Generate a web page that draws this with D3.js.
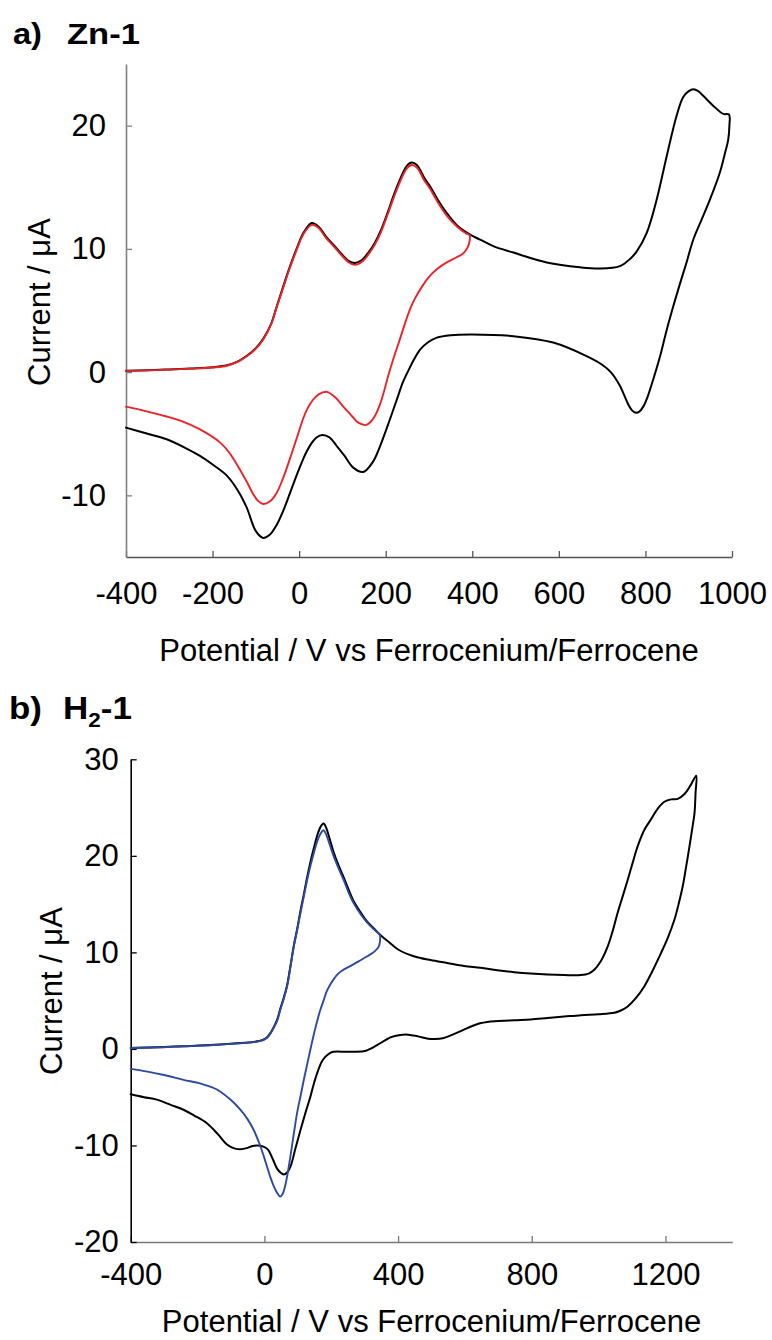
<!DOCTYPE html>
<html><head><meta charset="utf-8">
<script src="https://cdn.jsdelivr.net/npm/d3@7"></script>
<style>
body{margin:0;background:#fff}
svg{display:block}
text{font-family:"Liberation Sans",Arial,Helvetica,sans-serif}
</style>
</head><body>
<svg id="c" width="772" height="1340"></svg>
<script>
// ---------- tick values ----------
const xTicksA = [-400,-200,0,200,400,600,800,1000];
const yTicksA = [-10,0,10,20];
const xTicksB = [-400,0,400,800,1200];
const yTicksB = [-20,-10,0,10,20,30];

// ---------- panel a: Zn-1, [potential mV, current uA] ----------
const zn1Full = [
[-400,0.12],[-350,0.15],[-300,0.22],[-250,0.3],[-200,0.4],[-167,0.55],[-140,0.9],[-120,1.35],[-100,1.95],[-83,2.7],[-65,3.9],[-52,5.3],[-40,6.6],[-25,8.2],[-6,10.0],[10,11.3],[29,12.1],[45,11.8],[62,11.0],[80,10.3],[100,9.5],[115,9.0],[129,8.85],[145,9.1],[160,9.7],[175,10.5],[190,11.6],[205,13.0],[220,14.5],[235,15.8],[248,16.7],[260,17.0],[272,16.8],[290,15.7],[302,15.1],[320,14.0],[341,12.9],[365,11.9],[395,11.15],[418,10.75],[450,10.2],[495,9.7],[572,8.9],[649,8.5],[695,8.4],[741,8.6],[765,9.2],[780,9.8],[803,11.3],[826,14.0],[849,17.5],[872,20.8],[887,22.3],[900,22.8],[911,22.95],[922,22.8],[934,22.4],[957,21.6],[980,20.95],[993,20.9],
[994,20.0],[991,18.8],[984,17.8],[972,16.2],[949,14.0],[930,12.4],[911,10.8],[895,8.9],[880,7.2],[864,5.3],[849,3.4],[834,1.3],[818,-0.6],[805,-2.0],[795,-2.8],[786,-3.2],[778,-3.3],[769,-3.1],[760,-2.6],[741,-1.1],[720,0.0],[700,0.6],[664,1.3],[587,2.4],[495,2.92],[400,3.06],[350,3.0],[318,2.8],[297,2.4],[279,1.8],[265,1.0],[252,0.1],[240,-0.8],[225,-2.3],[210,-3.8],[187,-6.0],[170,-7.3],[148,-8.1],[125,-7.75],[105,-6.8],[87,-6.0],[70,-5.3],[54,-5.1],[40,-5.3],[28,-5.8],[18,-6.4],[10,-7.0],[-5,-8.3],[-21,-9.8],[-35,-11.1],[-52,-12.4],[-68,-13.2],[-83,-13.45],[-100,-12.9],[-121,-11.0],[-140,-9.7],[-167,-8.4],[-200,-7.5],[-229,-6.8],[-260,-6.2],[-306,-5.45],[-350,-5.0],[-400,-4.5]
];
const zn1Partial = [
[-400,0.1],[-350,0.14],[-300,0.2],[-250,0.28],[-200,0.38],[-167,0.52],[-140,0.87],[-120,1.3],[-100,1.9],[-83,2.65],[-65,3.85],[-52,5.25],[-40,6.5],[-25,8.1],[-6,9.9],[10,11.2],[29,11.95],[45,11.7],[62,10.9],[80,10.2],[100,9.4],[115,8.9],[129,8.7],[145,8.95],[160,9.55],[175,10.35],[190,11.45],[205,12.85],[220,14.3],[235,15.6],[248,16.5],[260,16.8],[272,16.6],[290,15.5],[302,14.9],[320,13.8],[341,12.7],[365,11.8],[386,11.25],[394,11.1],
[393,10.5],[389,10.1],[378,9.6],[363,9.3],[341,8.9],[320,8.4],[302,7.8],[285,7.0],[268,6.0],[256,5.1],[245,4.0],[233,2.7],[217,1.0],[205,-0.4],[195,-1.7],[186,-2.7],[176,-3.5],[165,-4.05],[154,-4.3],[143,-4.2],[133,-4.0],[118,-3.4],[102,-2.8],[85,-2.1],[64,-1.6],[45,-1.8],[33,-2.2],[20,-2.9],[10,-3.7],[-5,-5.3],[-21,-7.0],[-37,-8.6],[-52,-9.8],[-68,-10.5],[-83,-10.7],[-95,-10.45],[-106,-9.9],[-121,-8.9],[-137,-7.9],[-160,-6.6],[-183,-5.7],[-229,-4.65],[-270,-4.0],[-306,-3.6],[-350,-3.2],[-400,-2.8]
];

// ---------- panel b: H2-1 ----------
const h21Full = [
[-400,0.1],[-300,0.2],[-242,0.28],[-150,0.42],[-92,0.57],[-32,0.72],[-5,0.92],[8,1.2],[20,1.75],[28,2.25],[38,3.0],[48,4.2],[58,5.3],[68,6.6],[78,8.6],[88,10.7],[98,12.4],[108,14.3],[118,16.0],[128,17.8],[138,19.4],[148,20.8],[158,22.1],[168,23.0],[177,23.35],[185,22.9],[195,21.8],[207,20.4],[222,19.0],[237,17.8],[252,16.5],[267,15.3],[287,14.2],[307,13.2],[330,12.4],[347,11.8],[375,11.0],[400,10.3],[447,9.6],[497,9.2],[547,8.9],[597,8.6],[647,8.4],[697,8.15],[747,7.95],[797,7.8],[847,7.7],[897,7.65],[947,7.65],[970,7.8],[987,8.2],[1005,9.0],[1027,10.6],[1042,12.2],[1057,14.1],[1072,15.8],[1087,17.5],[1102,19.3],[1117,21.0],[1137,22.7],[1157,23.8],[1177,24.9],[1197,25.6],[1217,25.85],[1237,25.9],[1257,26.4],[1275,27.3],[1292,28.3],
[1290,26.5],[1287,24.45],[1280,22.8],[1272,21.0],[1262,18.9],[1252,16.9],[1240,15.1],[1227,13.4],[1207,11.5],[1187,9.95],[1160,8.0],[1137,6.5],[1110,5.2],[1087,4.4],[1065,3.95],[1047,3.75],[1000,3.6],[947,3.5],[897,3.35],[847,3.2],[797,3.05],[747,2.97],[700,2.88],[667,2.8],[645,2.65],[620,2.35],[597,2.0],[565,1.5],[537,1.14],[510,1.02],[490,1.05],[460,1.3],[430,1.48],[407,1.45],[377,1.2],[357,0.8],[337,0.4],[320,0.05],[307,-0.15],[297,-0.25],[250,-0.3],[207,-0.3],[195,-0.45],[183,-0.8],[172,-1.3],[160,-2.3],[148,-3.6],[138,-4.9],[123,-6.6],[108,-8.4],[93,-10.3],[78,-12.2],[68,-12.8],[58,-13.0],[48,-12.8],[38,-12.4],[25,-11.4],[10,-10.4],[-5,-10.1],[-20,-10.0],[-35,-10.05],[-50,-10.25],[-72,-10.4],[-90,-10.3],[-112,-9.9],[-140,-8.8],[-172,-7.7],[-210,-6.9],[-242,-6.3],[-280,-5.8],[-322,-5.25],[-360,-5.0],[-400,-4.7]
];
const h21Partial = [
[-400,0.1],[-300,0.18],[-242,0.27],[-150,0.4],[-92,0.55],[-32,0.7],[-5,0.9],[8,1.15],[20,1.7],[28,2.2],[38,2.9],[48,4.1],[58,5.2],[68,6.5],[78,8.5],[88,10.6],[98,12.3],[108,14.1],[118,15.8],[128,17.5],[138,19.0],[148,20.3],[158,21.5],[168,22.3],[177,22.65],[185,22.2],[195,21.2],[207,20.0],[222,18.7],[237,17.5],[252,16.2],[267,15.1],[287,14.0],[307,13.1],[330,12.3],[345,11.85],
[346,11.2],[342,10.6],[330,10.1],[308,9.6],[283,9.1],[258,8.6],[232,8.1],[218,7.7],[207,7.2],[196,6.6],[187,6.0],[177,5.0],[167,4.0],[158,2.9],[150,1.8],[138,0.0],[128,-1.6],[118,-3.2],[108,-4.9],[98,-6.6],[88,-8.8],[78,-11.1],[68,-13.2],[62,-14.2],[55,-15.0],[47,-15.3],[38,-14.9],[28,-14.2],[18,-13.3],[8,-12.2],[-2,-11.1],[-15,-9.8],[-32,-8.4],[-50,-7.3],[-72,-6.3],[-100,-5.3],[-142,-4.2],[-190,-3.6],[-242,-3.2],[-300,-2.7],[-350,-2.35],[-400,-2.07]
];

const svg = d3.select('#c');
const FONT = 31;
const fmt = d => String(d);

function panel(cfg){
  const x = d3.scaleLinear().domain(cfg.xDomain).range(cfg.xRange);
  const y = d3.scaleLinear().domain(cfg.yDomain).range(cfg.yRange);
  const g = svg.append('g');

  const line = d3.line().x(d=>x(d[0])).y(d=>y(d[1])).curve(d3.curveCatmullRom.alpha(0.5));

  const ax = g.append('g').attr('transform',`translate(0,${cfg.yRange[0]})`)
    .call(d3.axisBottom(x).tickValues(cfg.xTicks).tickSizeInner(-6).tickSizeOuter(0).tickPadding(cfg.xPad).tickFormat(fmt));
  ax.select('.domain').attr('stroke',cfg.xAxisColor).attr('stroke-width',1.6);
  ax.selectAll('.tick line').attr('stroke',cfg.xAxisColor).attr('stroke-width',1.3);
  ax.selectAll('.tick text').attr('font-size',FONT).attr('fill','#000')
    .attr('font-family','"Liberation Sans",Arial,sans-serif');

  const ay = g.append('g').attr('transform',`translate(${cfg.xRange[0]},0)`)
    .call(d3.axisLeft(y).tickValues(cfg.yTicks).tickSizeInner(-6).tickSizeOuter(0).tickPadding(cfg.yPad).tickFormat(fmt));
  ay.select('.domain').attr('stroke',cfg.yAxisColor).attr('stroke-width',1.6);
  ay.selectAll('.tick line').attr('stroke',cfg.yAxisColor).attr('stroke-width',1.3);
  ay.selectAll('.tick text').attr('font-size',FONT).attr('fill','#000')
    .attr('font-family','"Liberation Sans",Arial,sans-serif');

  cfg.series.forEach(s=>{
    g.append('path').datum(s.data).attr('d',line)
      .attr('fill','none').attr('stroke',s.color).attr('stroke-width',s.width)
      .attr('stroke-linejoin','round').attr('stroke-linecap','round');
  });

  g.append('text').attr('x',(cfg.xRange[0]+cfg.xRange[1])/2).attr('y',cfg.xTitleY)
    .attr('text-anchor','middle').attr('font-size',FONT).text('Potential / V vs Ferrocenium/Ferrocene');
  g.append('text').attr('transform',`translate(${cfg.yTitleX},${cfg.yTitleCY}) rotate(-90)`)
    .attr('text-anchor','middle').attr('font-size',FONT).text('Current / \u03bcA');
}

function title(parts, x0, base, targetW, fs){
  const t = svg.append('text').attr('font-weight','bold').attr('font-size',fs);
  parts(t);
  const w = t.node().getBBox().width || targetW;
  t.attr('transform',`translate(${x0},${base}) scale(${targetW/w},1)`);
}

panel({
  xDomain:[-400,1000], xRange:[126,732],
  yDomain:[-15,25], yRange:[557,64],
  xTicks:xTicksA, yTicks:yTicksA, xPad:25, yPad:20,
  xAxisColor:'#555', yAxisColor:'#808080',
  xTitleY:661, yTitleX:50, yTitleCY:302,
  series:[
    {data:zn1Full, color:'#000', width:2},
    {data:zn1Partial, color:'#ee2226', width:1.9}
  ]
});

panel({
  xDomain:[-400,1400], xRange:[130.7,732.3],
  yDomain:[-20,30], yRange:[1242,759.3],
  xTicks:xTicksB, yTicks:yTicksB, xPad:21, yPad:12,
  xAxisColor:'#777', yAxisColor:'#000',
  xTitleY:1332, yTitleX:62, yTitleCY:991,
  series:[
    {data:h21Full, color:'#000', width:2},
    {data:h21Partial, color:'#2b4aa3', width:1.9}
  ]
});

title(t=>{t.text('a)');}, 13, 44, 29, 30);
title(t=>{t.text('Zn-1');}, 67, 44, 73, 30);
title(t=>{t.text('b)');}, 9, 719, 33, 31);
title(t=>{
  t.append('tspan').text('H');
  t.append('tspan').attr('font-size',20).attr('dy',8).text('2');
  t.append('tspan').attr('dy',-8).text('-1');
}, 63, 719, 69, 31);
</script>
</body></html>
